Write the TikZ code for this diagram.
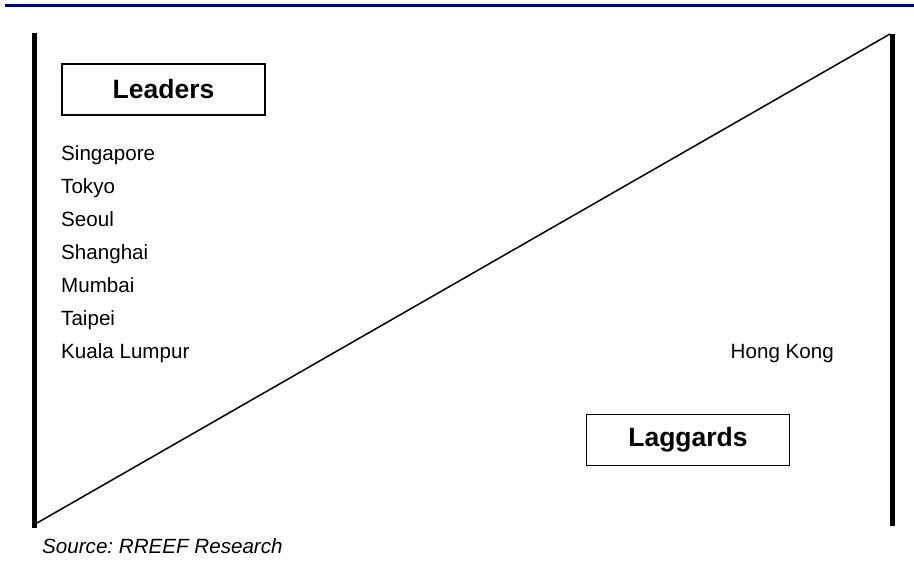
\documentclass[tikz,border=0pt]{standalone}
\usepackage{fontspec}
\setmainfont{Liberation Sans}
\usetikzlibrary{positioning}
\definecolor{rulenavy}{RGB}{0,0,128}
\frenchspacing

\begin{document}
\begin{tikzpicture}
    [
        x=1pt, y=-1pt,
        bar_line/.style={line width=4.5pt, color=black},
        head_box/.style={rectangle, draw=black, line width=1.4pt, minimum width=203pt, minimum height=51pt, inner sep=0pt, font=\fontsize{26.5}{30}\selectfont\bfseries},
        city_text/.style={anchor=base west, inner sep=0pt, font=\fontsize{20.6}{24}\selectfont},
    ]
        \useasboundingbox (0,0) rectangle (914,562) ;
        \draw[line width=3pt, color=rulenavy] (5,5.5) -- (914,5.5) ;
        \coordinate (low) at (37,523) ;
        \coordinate (high) at (890,34) ;
        \draw[bar_line] (34.5,33) -- (34.5,528) ;
        \draw[bar_line] (892.5,34) -- (892.5,526) ;
        \draw[line width=1.5pt, color=black] (low) -- (high) ;
        \node[head_box] (leaders) at (163.5,89.5) {Leaders} ;
        \node[head_box] (laggards) at (688,440) {Laggards} ;
        \node[city_text] (singapore) at (61,160) {Singapore} ;
        \node[city_text] (tokyo) at (61,193) {Tokyo} ;
        \node[city_text] (seoul) at (61,226) {Seoul} ;
        \node[city_text] (shanghai) at (61,259) {Shanghai} ;
        \node[city_text] (mumbai) at (61,292) {Mumbai} ;
        \node[city_text] (taipei) at (61,325) {Taipei} ;
        \node[city_text] (kuala) at (61,358) {Kuala Lumpur} ;
        \node[city_text, anchor=base east] (hongkong) at (834,358) {Hong Kong} ;
        \node[city_text, font=\fontsize{20.6}{24}\selectfont\itshape] (source) at (42,553) {Source: RREEF Research} ;
    \end{tikzpicture}
\end{document}
